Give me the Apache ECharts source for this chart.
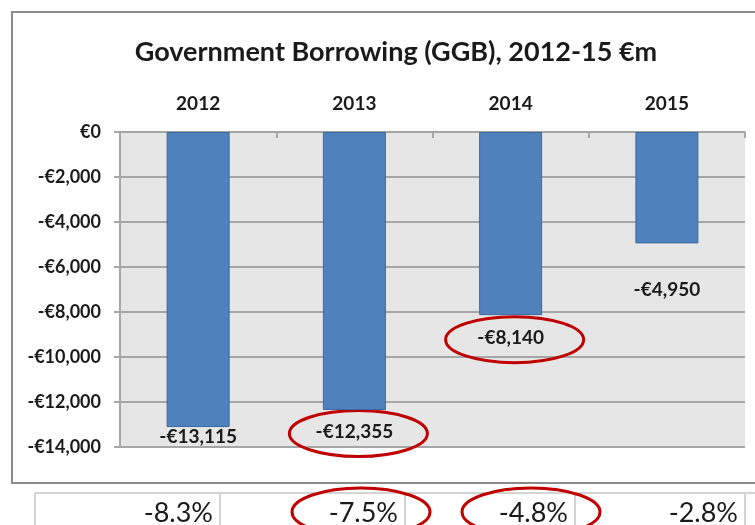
<!DOCTYPE html>
<html>
<head>
<meta charset="utf-8">
<script src="https://cdn.jsdelivr.net/npm/echarts@6/dist/echarts.min.js"></script>
<style>
  html, body { margin: 0; padding: 0; background: #fff; }
  #chart { width: 755px; height: 525px; }
</style>
</head>
<body>
<div id="chart"></div>
<script>
// Government borrowing (GGB), €m
const years = ['2012', '2013', '2014', '2015'];
const borrowing = [-13115, -12355, -8140, -4950];
// Borrowing as a share of GDP, shown in the row beneath the chart
const gdpShare = ['-8.3%', '-7.5%', '-4.8%', '-2.8%'];
// Years whose figures are circled
const highlighted = ['2013', '2014'];

const FONT = 'Lato, "Open Sans", sans-serif';
const INK = '#1a1a1a';
const RING = '#c00000';

// distance of each value label below its bar end
const labelGap = [0, 12, 13, 37];
const LABEL_SIZE = 19;

function euro(v) {
  const s = Math.abs(v).toLocaleString('en-US');
  return (v < 0 ? '-€' : '€') + s;
}

const chart = echarts.init(document.getElementById('chart'), null, { renderer: 'canvas' });

const option = {
  animation: false,
  backgroundColor: '#ffffff',
  title: {
    text: 'Government Borrowing (GGB), 2012-15 €m',
    left: 391,
    textAlign: 'center',
    top: 34,
    textStyle: { fontFamily: FONT, fontWeight: 'bold', fontSize: 27, color: INK }
  },
  grid: {
    left: 120, right: 10, top: 132, bottom: 78,
    show: true, backgroundColor: '#e6e6e6', borderWidth: 0
  },
  xAxis: {
    type: 'category',
    position: 'top',
    data: years,
    axisLine: { show: true, lineStyle: { color: '#a6a6a6', width: 2 } },
    axisTick: { show: true, inside: true, length: 6, alignWithLabel: false, lineStyle: { color: '#a6a6a6', width: 2 } },
    axisLabel: { margin: 19, fontFamily: FONT, fontWeight: 'bold', fontSize: 19, color: INK },
    splitLine: { show: false }
  },
  yAxis: {
    type: 'value',
    min: -14000, max: 0, interval: 2000,
    axisLine: { show: true, lineStyle: { color: '#a6a6a6', width: 2 } },
    axisTick: { show: true, length: 6, lineStyle: { color: '#a6a6a6', width: 2 } },
    axisLabel: {
      margin: 19, fontFamily: FONT, fontWeight: 'bold', fontSize: 18, color: INK,
      formatter: v => euro(v)
    },
    splitLine: { show: true, lineStyle: { color: '#a6a6a6', width: 2 } }
  },
  series: [{
    type: 'bar',
    barWidth: 63,
    data: borrowing.map((v, i) => ({
      value: v,
      label: { distance: labelGap[i] }
    })),
    itemStyle: { color: '#4f81bd', borderColor: '#3d6a9e', borderWidth: 1 },
    label: {
      show: true,
      position: 'bottom',
      fontFamily: FONT, fontWeight: 'bold', fontSize: LABEL_SIZE, color: INK,
      formatter: p => euro(p.value)
    }
  }]
};
chart.setOption(option);

// Frame, GDP-share row and the red rings
function decorate() {
  const els = [];
  // outer chart frame
  els.push({
    type: 'rect', z: -1, silent: true,
    shape: { x: 12, y: 12, width: 760, height: 471 },
    style: { fill: null, stroke: '#8c8c8c', lineWidth: 2 }
  });

  // GDP-share row
  const rowTop = 493;
  const cells = [35, 220, 405, 575, 745];
  els.push({
    type: 'line', silent: true,
    shape: { x1: cells[0], y1: rowTop, x2: 760, y2: rowTop },
    style: { stroke: '#d4d4d4', lineWidth: 2 }
  });
  cells.forEach(x => els.push({
    type: 'line', silent: true,
    shape: { x1: x, y1: rowTop, x2: x, y2: 530 },
    style: { stroke: '#d4d4d4', lineWidth: 2 }
  }));
  gdpShare.forEach((t, i) => els.push({
    type: 'text', silent: true,
    x: cells[i + 1] - 7, y: 513,
    style: {
      text: t, align: 'right', verticalAlign: 'middle',
      font: '27px ' + FONT, fill: INK
    }
  }));

  // rings round the highlighted value labels and their GDP shares
  highlighted.forEach(y => {
    const i = years.indexOf(y);
    const end = chart.convertToPixel({ gridIndex: 0 }, [y, borrowing[i]]);
    els.push({
      type: 'ellipse', silent: true,
      shape: { cx: end[0] + 4, cy: end[1] + labelGap[i] + LABEL_SIZE / 2 + 2, rx: 69, ry: 23 },
      style: { fill: null, stroke: RING, lineWidth: 3 }
    });
    const cellRight = cells[i + 1] - 7;
    els.push({
      type: 'ellipse', silent: true,
      shape: { cx: cellRight - 37, cy: 512, rx: 69, ry: 24 },
      style: { fill: null, stroke: RING, lineWidth: 3 }
    });
  });

  chart.setOption({ graphic: { elements: els } });
}
decorate();
</script>
</body>
</html>
